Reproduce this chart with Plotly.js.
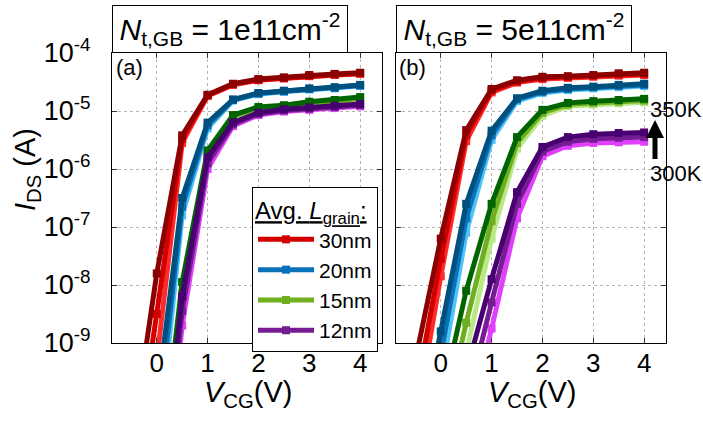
<!DOCTYPE html>
<html>
<head>
<meta charset="utf-8">
<script src="https://cdn.plot.ly/plotly-3.0.1.min.js"></script>
<style>html,body{margin:0;padding:0;background:#fff;}#chart{width:703px;height:423px;}</style>
</head>
<body>
<div id="chart"></div>
<script>
// ---- data ----
const V_CG = [-0.5, 0, 0.5, 1, 1.5, 2, 2.5, 3, 3.5, 4];
const grainSizes = ['30nm', '20nm', '15nm', '12nm'];
const temperatures = ['300K', '325K', '350K'];

// panel (a): N_t,GB = 1e11 cm^-2, values are log10(I_DS / A)
const a_30nm_300K = [-12.2, -9.3, -5.55, -4.74, -4.55, -4.47, -4.44, -4.40, -4.38, -4.36];
const a_30nm_325K = [-11.5, -8.5, -5.48, -4.73, -4.54, -4.46, -4.43, -4.39, -4.37, -4.35];
const a_30nm_350K = [-10.8, -7.8, -5.42, -4.72, -4.53, -4.45, -4.42, -4.38, -4.36, -4.34];
const a_20nm_300K = [-14.5, -11.0, -6.80, -5.30, -4.82, -4.71, -4.67, -4.63, -4.61, -4.57];
const a_20nm_325K = [-14.0, -10.5, -6.65, -5.25, -4.81, -4.70, -4.66, -4.62, -4.60, -4.56];
const a_20nm_350K = [-13.5, -10.05, -6.50, -5.20, -4.80, -4.69, -4.65, -4.61, -4.59, -4.55];
const a_15nm_300K = [-16.5, -12.6, -8.35, -5.82, -5.11, -4.97, -4.94, -4.88, -4.85, -4.80];
const a_15nm_325K = [-16.0, -12.2, -8.15, -5.75, -5.09, -4.95, -4.92, -4.86, -4.83, -4.78];
const a_15nm_350K = [-15.5, -11.8, -7.95, -5.68, -5.07, -4.93, -4.90, -4.84, -4.81, -4.76];
const a_12nm_300K = [-17.0, -13.0, -8.70, -6.00, -5.26, -5.07, -5.01, -4.98, -4.95, -4.92];
const a_12nm_325K = [-16.5, -12.6, -8.45, -5.90, -5.23, -5.05, -4.99, -4.96, -4.93, -4.90];
const a_12nm_350K = [-16.0, -12.2, -8.20, -5.80, -5.20, -5.03, -4.97, -4.94, -4.91, -4.88];

// panel (b): N_t,GB = 5e11 cm^-2
const b_30nm_300K = [-10.4, -7.85, -5.52, -4.68, -4.51, -4.45, -4.43, -4.41, -4.39, -4.38];
const b_30nm_325K = [-9.9, -7.55, -5.42, -4.65, -4.49, -4.43, -4.41, -4.39, -4.37, -4.36];
const b_30nm_350K = [-9.3, -7.2, -5.33, -4.62, -4.47, -4.41, -4.40, -4.38, -4.35, -4.34];
const b_20nm_300K = [-11.8, -9.6, -7.10, -5.50, -4.83, -4.69, -4.64, -4.61, -4.59, -4.57];
const b_20nm_325K = [-11.4, -9.2, -6.85, -5.42, -4.80, -4.67, -4.62, -4.59, -4.57, -4.55];
const b_20nm_350K = [-11.0, -8.8, -6.60, -5.34, -4.78, -4.65, -4.60, -4.58, -4.55, -4.53];
const b_15nm_300K = [-13.1, -11.1, -9.20, -7.20, -5.65, -5.08, -4.92, -4.89, -4.87, -4.85];
const b_15nm_325K = [-12.6, -10.6, -8.65, -6.90, -5.55, -5.03, -4.89, -4.86, -4.84, -4.82];
const b_15nm_350K = [-12.0, -10.05, -8.10, -6.60, -5.45, -4.98, -4.86, -4.83, -4.81, -4.79];
const b_12nm_300K = [-13.5, -12.1, -10.6, -8.75, -6.85, -5.78, -5.60, -5.55, -5.54, -5.53];
const b_12nm_325K = [-13.0, -11.6, -10.05, -8.30, -6.60, -5.70, -5.53, -5.48, -5.46, -5.45];
const b_12nm_350K = [-12.5, -11.0, -9.50, -7.90, -6.40, -5.62, -5.45, -5.40, -5.38, -5.37];

const xTickVals = [0, 1, 2, 3, 4];
const xTickText = ['0', '1', '2', '3', '4'];
const yTickVals = [1e-9, 1e-8, 1e-7, 1e-6, 1e-5, 1e-4];
const yTickText = ['10<sup>-9</sup>', '10<sup>-8</sup>', '10<sup>-7</sup>', '10<sup>-6</sup>', '10<sup>-5</sup>', '10<sup>-4</sup>'];

// ---- styling ----
const colors = {
  '30nm': {'300K': '#ff2a2a', '325K': '#d40000', '350K': '#8b0000'},
  '20nm': {'300K': '#4fc3f7', '325K': '#0a72b8', '350K': '#00507f'},
  '15nm': {'300K': '#b8e986', '325K': '#6fae1e', '350K': '#006400'},
  '12nm': {'300K': '#e040fb', '325K': '#761c93', '350K': '#480070'}
};
const panelA = {'30nm': {'300K': a_30nm_300K, '325K': a_30nm_325K, '350K': a_30nm_350K},
                '20nm': {'300K': a_20nm_300K, '325K': a_20nm_325K, '350K': a_20nm_350K},
                '15nm': {'300K': a_15nm_300K, '325K': a_15nm_325K, '350K': a_15nm_350K},
                '12nm': {'300K': a_12nm_300K, '325K': a_12nm_325K, '350K': a_12nm_350K}};
const panelB = {'30nm': {'300K': b_30nm_300K, '325K': b_30nm_325K, '350K': b_30nm_350K},
                '20nm': {'300K': b_20nm_300K, '325K': b_20nm_325K, '350K': b_20nm_350K},
                '15nm': {'300K': b_15nm_300K, '325K': b_15nm_325K, '350K': b_15nm_350K},
                '12nm': {'300K': b_12nm_300K, '325K': b_12nm_325K, '350K': b_12nm_350K}};

const traces = [];
[[panelA, 'x', 'y'], [panelB, 'x2', 'y2']].forEach(([panel, xa, ya], pi) => {
  grainSizes.forEach((g, gi) => {
    temperatures.forEach(T => {
      const isLegend = (pi === 0 && T === '325K');
      traces.push({
        type: 'scatter', mode: 'lines+markers',
        x: V_CG, y: panel[g][T].map(v => Math.pow(10, v)),
        xaxis: xa, yaxis: ya,
        name: g, legendrank: gi + 1,
        showlegend: isLegend,
        line: {color: colors[g][T], width: 5},
        marker: {symbol: 'square', size: 8, color: colors[g][T]},
        hoverinfo: 'skip'
      });
    });
  });
});

const F = 'Liberation Sans, Arial, sans-serif';
const W = 703, H = 423;
const px = v => v / W, py = v => 1 - v / H;

function xAxis(dom, anchor) {
  return {domain: dom, anchor: anchor, range: [-0.88, 4.43], tickmode: 'array', tickvals: xTickVals, ticktext: xTickText,
    ticks: 'inside', ticklen: 5, tickwidth: 1, tickcolor: '#333', showline: true, linecolor: '#000', linewidth: 1,
    mirror: 'ticks', showgrid: true, gridcolor: '#b4b4b4', griddash: 'dot', gridwidth: 1, zeroline: false,
    tickfont: {family: F, size: 26, color: '#000'}, ticklabelstandoff: -3, fixedrange: true};
}
function yAxis(dom, anchor, labels) {
  return {domain: dom, anchor: anchor, type: 'log', range: [-9, -4], tickmode: 'array', tickvals: yTickVals, ticktext: yTickText,
    showticklabels: labels, ticks: 'inside', ticklen: 5, tickwidth: 1, tickcolor: '#333', showline: true, linecolor: '#000', linewidth: 1,
    mirror: 'ticks', showgrid: true, gridcolor: '#b4b4b4', griddash: 'dot', gridwidth: 1, zeroline: false,
    tickfont: {family: F, size: 27, color: '#000'}, ticklabelstandoff: 15, fixedrange: true};
}

const yDom = [py(343), py(53)];
const C = (x, y, text, size, extra) => Object.assign({xref: 'paper', yref: 'paper', x: px(x), y: py(y),
  xanchor: 'center', yanchor: 'middle', showarrow: false, text: text, font: {family: F, size: size, color: '#000'}}, extra || {});

const layout = {
  width: W, height: H, margin: {l: 0, r: 0, t: 0, b: 0, autoexpand: false},
  paper_bgcolor: '#fff', plot_bgcolor: '#fff',
  font: {family: F, color: '#000'},
  showlegend: true,
  xaxis: xAxis([px(112), px(382)], 'y'),
  yaxis: yAxis(yDom, 'x', true),
  xaxis2: xAxis([px(396), px(666)], 'y2'),
  yaxis2: yAxis(yDom, 'x2', false),
  legend: {x: px(252), y: py(187), xanchor: 'left', yanchor: 'top', bgcolor: '#fff', bordercolor: '#000', borderwidth: 1,
    font: {family: F, size: 21, color: '#000'}, itemwidth: 56, traceorder: 'normal',
    title: {text: '<u>Avg. <i>L</i><sub>grain</sub>:</u>', font: {family: F, size: 24, color: '#000'}}},
  annotations: [
    {xref: 'paper', yref: 'paper', x: px(112), y: py(53), xanchor: 'left', yanchor: 'bottom', showarrow: false,
     text: '<i>N</i><sub>t,GB</sub> = 1e11cm<sup>-2</sup>', font: {family: F, size: 30, color: '#000'},
     bordercolor: '#000', borderwidth: 1, borderpad: 0, width: 234, height: 46, align: 'center', bgcolor: '#fff'},
    {xref: 'paper', yref: 'paper', x: px(396), y: py(53), xanchor: 'left', yanchor: 'bottom', showarrow: false,
     text: '<i>N</i><sub>t,GB</sub> = 5e11cm<sup>-2</sup>', font: {family: F, size: 30, color: '#000'},
     bordercolor: '#000', borderwidth: 1, borderpad: 0, width: 234, height: 46, align: 'center', bgcolor: '#fff'},
    C(129, 67, '(a)', 22),
    C(413, 67, '(b)', 22),
    C(27, 170, '<i>I</i><sub>DS</sub> (A)', 29, {textangle: -90}),
    C(248, 394, '<i>V</i><sub>CG</sub>(V)', 29),
    C(532, 394, '<i>V</i><sub>CG</sub>(V)', 29),
    C(676, 110, '350K', 22),
    C(676, 173, '300K', 22)
  ],
  shapes: [
    {type: 'rect', xref: 'paper', yref: 'paper', x0: px(652.5), x1: px(657.5), y0: py(159), y1: py(137),
     fillcolor: '#000', line: {width: 0}},
    {type: 'path', xref: 'paper', yref: 'paper',
     path: 'M ' + px(646) + ' ' + py(138) + ' L ' + px(664) + ' ' + py(138) + ' L ' + px(655) + ' ' + py(120) + ' Z',
     fillcolor: '#000', line: {width: 0}}
  ]
};

Plotly.newPlot('chart', traces, layout, {displayModeBar: false, staticPlot: true});
</script>
</body>
</html>
